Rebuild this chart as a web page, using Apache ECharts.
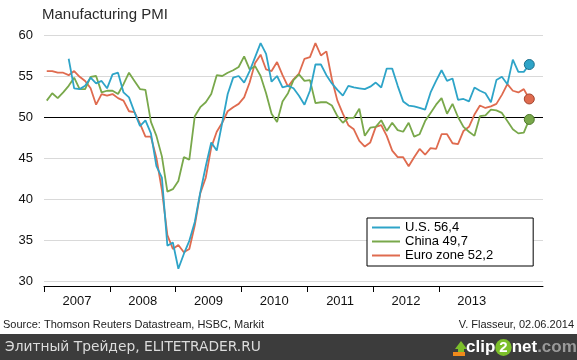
<!DOCTYPE html>
<html>
<head>
<meta charset="utf-8">
<script src="https://cdn.jsdelivr.net/npm/echarts@6/dist/echarts.min.js"></script>
<style>
  html, body { margin: 0; padding: 0; background: #fff; }
  #chart { width: 577px; height: 360px; }
</style>
</head>
<body>
<div id="chart"></div>
<script>
// ---- Data (monthly, Jan 2007 .. May 2014) ----
const START_YEAR = 2007;
const yearLabels = ['2007', '2008', '2009', '2010', '2011', '2012', '2013'];
const seriesNames = ['U.S. 56,4', 'China 49,7', 'Euro zone 52,2'];
const yTicks = [30, 35, 40, 45, 50, 55, 60];
const referenceLevel = 50;

const usPMI = [
  null, null, null, null, 57.1, 53.5, 53.4, 53.8, 54.8, 54.1, 54.4, 53.5,
  55.2, 55.4, 53.0, 52.4, 50.6, 48.9, 49.6, 48.0, 44.0, 42.6, 34.3, 34.7,
  31.5, 33.3, 34.9, 37.2, 40.8, 44.0, 46.9, 45.9, 49.3, 52.8, 54.8, 55.0,
  54.2, 55.6, 57.3, 59.0, 57.7, 54.3, 55.0, 53.6, 53.8, 53.5, 52.6, 51.5,
  53.2, 56.4, 56.4, 55.1, 54.1, 53.3, 52.6, 53.8, 53.6, 53.5, 53.4, 53.7,
  54.2, 53.6, 55.9, 55.9, 53.8, 51.9, 51.4, 51.3, 51.1, 50.9, 53.0, 54.4,
  55.7, 54.4, 54.7, 52.1, 52.2, 51.9, 53.6, 53.2, 52.9, 51.8, 54.5, 54.9,
  54.0, 57.0, 55.5, 55.5, 56.4
];
const chinaPMI = [
  52.0, 52.9, 52.3, 53.0, 53.8, 54.8, 53.4, 53.4, 54.9, 55.0, 53.0, 53.2,
  53.2, 52.8, 54.0, 55.4, 54.4, 53.4, 53.3, 49.4, 47.7, 45.2, 40.9, 41.2,
  42.2, 45.1, 44.8, 50.1, 51.2, 51.8, 52.8, 55.1, 55.0, 55.4, 55.7, 56.1,
  57.4, 55.8, 56.2, 55.0, 52.9, 50.4, 49.4, 51.9, 52.9, 54.5, 55.2, 54.4,
  54.5, 51.7, 51.8, 51.8, 51.4, 50.1, 49.3, 49.9, 49.9, 51.0, 47.7, 48.7,
  48.8, 49.6, 48.3, 49.3, 48.4, 48.2, 49.3, 47.6, 47.9, 49.5, 50.5, 51.5,
  52.3, 50.4, 51.6, 50.0, 48.8, 48.2, 47.7, 50.1, 50.2, 50.9, 50.8, 50.5,
  49.5, 48.5, 48.0, 48.1, 49.7
];
const euroPMI = [
  55.6, 55.6, 55.4, 55.4, 55.1, 55.6, 54.9, 54.4, 53.5, 51.5, 52.8, 52.6,
  52.8, 52.3, 52.0, 50.7, 50.6, 49.2, 47.6, 47.6, 45.0, 41.1, 35.6, 33.9,
  34.4, 33.5, 33.9, 36.8, 40.7, 42.6, 46.3, 48.2, 49.3, 50.7, 51.2, 51.6,
  52.4, 54.2, 56.6, 57.6, 55.8, 55.6, 56.7, 55.1, 53.7, 54.6, 55.3, 57.1,
  57.3, 59.0, 57.5, 58.0, 54.6, 52.0, 50.4, 49.0, 48.5, 47.1, 46.4, 46.9,
  48.8, 49.0, 47.7, 45.9, 45.1, 45.1, 44.0, 45.1, 46.1, 45.4, 46.2, 46.1,
  47.9, 47.9, 46.8, 46.7, 48.3, 48.8, 50.3, 51.4, 51.1, 51.3, 51.6, 52.7,
  54.0, 53.2, 53.0, 53.4, 52.2
];

const colors = ['#2ea4c8', '#79a84b', '#df6b4f'];
const dotBorders = ['#1d6f8c', '#4f7a2c', '#a2452f'];

// x axis in months since Jan 2007; each point sits mid-month
const AXIS_MONTHS = 91;
const tickMonths = yearLabels.map((_, k) => k * 12);
const labelMonths = yearLabels.map((_, k) => k * 12 + 6);

function buildData(values, idx) {
  const pts = [];
  values.forEach((v, i) => { if (v !== null) pts.push([i + 0.5, v]); });
  const last = pts[pts.length - 1];
  pts[pts.length - 1] = {
    value: last,
    symbol: 'circle',
    symbolSize: 10,
    itemStyle: { color: colors[idx], borderColor: dotBorders[idx], borderWidth: 1 }
  };
  return pts;
}

const allValues = [usPMI, chinaPMI, euroPMI];
const FONT = 'Arial, "Liberation Sans", sans-serif';

const chart = echarts.init(document.getElementById('chart'), null, { renderer: 'canvas' });
chart.setOption({
  animation: false,
  backgroundColor: '#ffffff',
  color: colors,
  title: {
    text: 'Manufacturing PMI',
    left: 42, top: 7, padding: 0,
    textStyle: { fontFamily: FONT, fontSize: 15, fontWeight: 'normal', color: '#2a2a2a' }
  },
  grid: { left: 44, right: 34, top: 35, bottom: 79, containLabel: false },
  xAxis: {
    type: 'value', min: 0, max: AXIS_MONTHS,
    offset: 5,
    axisLine: { show: true, onZero: false, lineStyle: { color: '#000', width: 1 } },
    axisTick: { show: true, customValues: tickMonths, length: 6, lineStyle: { color: '#000', width: 1 } },
    axisLabel: {
      customValues: labelMonths, margin: 9,
      fontFamily: FONT, fontSize: 13, color: '#111',
      formatter: v => String(START_YEAR + Math.round((v - 6) / 12))
    },
    splitLine: { show: false }
  },
  yAxis: {
    type: 'value', min: yTicks[0], max: yTicks[yTicks.length - 1], interval: 5,
    axisLine: { show: false }, axisTick: { show: false },
    axisLabel: { margin: 11, fontFamily: FONT, fontSize: 13, color: '#111' },
    splitLine: { show: true, lineStyle: { color: '#d9d9d9', width: 1 } }
  },
  legend: {
    orient: 'vertical', left: 367, top: 218,
    data: seriesNames,
    icon: 'rect', itemWidth: 28, itemHeight: 2, itemGap: 1,
    padding: [3, 40, 4, 5],
    borderColor: '#000', borderWidth: 1, backgroundColor: '#fff',
    textStyle: { fontFamily: FONT, fontSize: 13, color: '#000' }
  },
  series: seriesNames.map((name, idx) => {
    const s = {
      name, type: 'line',
      data: buildData(allValues[idx], idx),
      symbol: 'none', showSymbol: true, showAllSymbol: true,
      lineStyle: { width: 1.8, color: colors[idx] },
      itemStyle: { color: colors[idx] },
      z: 3 + (2 - idx)
    };
    if (idx === 0) {
      s.markLine = {
        silent: true, symbol: 'none',
        label: { show: false },
        lineStyle: { color: '#000', width: 1.2, type: 'solid' },
        data: [{ yAxis: referenceLevel }],
        z: 1
      };
    }
    return s;
  }),
  graphic: [
    { type: 'text', left: 3, top: 319,
      style: { text: 'Source: Thomson Reuters Datastream, HSBC, Markit', font: '11px ' + FONT, fill: '#222' } },
    { type: 'text', right: 3, top: 319,
      style: { text: 'V. Flasseur, 02.06.2014', font: '11px ' + FONT, fill: '#222' } },
    { type: 'rect', left: 0, top: 334, shape: { width: 577, height: 26 }, style: { fill: '#3c3c3c' } },
    { type: 'text', left: 5, top: 340,
      style: { text: 'Элитный Трейдер, ELITETRADER.RU', font: '13.8px "DejaVu Sans", sans-serif', fill: '#dcdcdc' } },
    { type: 'polygon', shape: { points: [[455, 349], [461, 341], [467, 349], [464, 349], [464, 354], [458, 354], [458, 349]] },
      style: { fill: '#7cbf2a' } },
    { type: 'rect', shape: { x: 453, y: 352, width: 12, height: 4 }, style: { fill: '#f08a1c' } },
    { type: 'text', left: 466, top: 339,
      style: {
        text: '{a|clip}{b|2}{a|net}{c|.com}',
        rich: {
          a: { font: 'bold 17px Arial, sans-serif', fill: '#ffffff' },
          b: { font: 'bold 15px Arial, sans-serif', fill: '#ffffff', backgroundColor: '#7cbf2a', borderRadius: 9, padding: [1, 4, 1, 4] },
          c: { font: 'bold 17px Arial, sans-serif', fill: '#9a9a9a' }
        }
      } }
  ]
});
</script>
</body>
</html>
